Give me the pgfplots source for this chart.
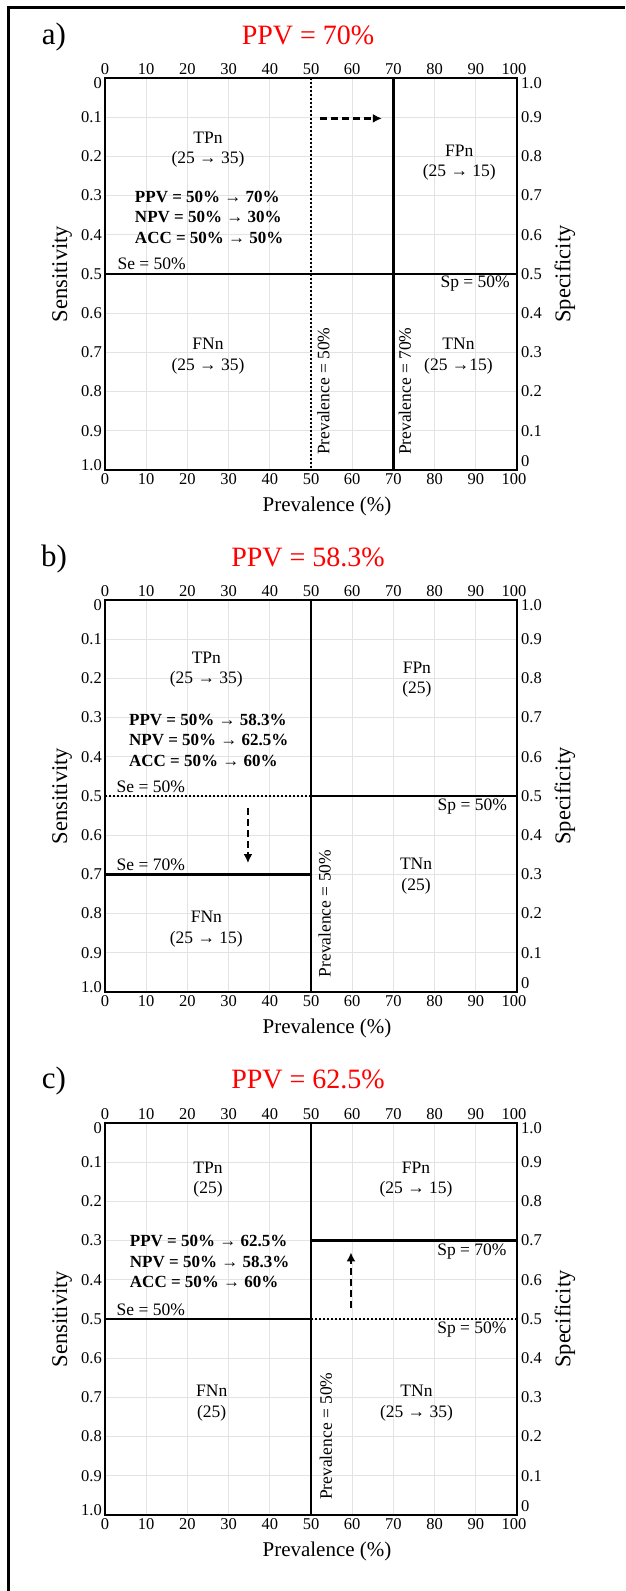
\documentclass[border=0pt]{standalone}
\usepackage{pgfplots}
\pgfplotsset{compat=1.18}
\usetikzlibrary{arrows.meta}
\usepackage{fontspec}
\setmainfont{Liberation Serif}
\newcommand{\txt}{\fontsize{17.5}{20.5}\selectfont}
\newcommand{\btxt}{\bfseries\fontsize{17}{20.5}\selectfont}
\newcommand{\ylab}{\fontsize{22.5}{25}\selectfont}
\pgfplotsset{
  panel/.style={
    scale only axis, width=412pt, height=392pt,
    xmin=0, xmax=100, ymin=0, ymax=1, y dir=reverse,
    xtick={0,10,20,30,40,50,60,70,80,90,100},
    xticklabels={0,10,20,30,40,50,60,70,80,90,\hspace*{-6pt}100},
    major tick length=0pt,
    axis line style={line width=2.8pt},
    tick label style={font=\fontsize{16.5}{18}\selectfont, inner sep=2pt},
    anchor=north west,
  },
  base/.style={panel,
    grid=major, grid style={line width=0.9pt, black!11},
    ytick={0,0.1,0.2,0.3,0.4,0.5,0.6,0.7,0.8,0.9,1},
    yticklabels={},
    extra y ticks={0.012,0.1,0.2,0.3,0.4,0.5,0.6,0.7,0.8,0.9,0.988},
    extra y tick labels={0,0.1,0.2,0.3,0.4,0.5,0.6,0.7,0.8,0.9,1.0},
    extra y tick style={grid=none},
    xticklabel style={yshift=-1pt},
    yticklabel style={xshift=-1pt},
  },
  over/.style={panel,
    xticklabel pos=right, yticklabel pos=right,
    ytick={0.012,0.1,0.2,0.3,0.4,0.5,0.6,0.7,0.8,0.9,0.978},
    yticklabels={1.0,0.9,0.8,0.7,0.6,0.5,0.4,0.3,0.2,0.1,0},
    yticklabel style={xshift=2pt},
    xticklabel style={yshift=1pt},
  },
  solidl/.style={black, line width=2.4pt},
  dotl/.style={black, line width=1.8pt, dash pattern=on 1.8pt off 2.2pt},
  arr/.style={black, line width=2.6pt, dash pattern=on 7pt off 4pt, -{Latex[length=9pt,width=9pt]}},
}
\begin{document}
\begin{tikzpicture}
\useasboundingbox (0pt,0pt) rectangle (625pt,-1591pt);
\draw[line width=3pt] (8pt,-1591pt) -- (8pt,-7pt) -- (625pt,-7pt);

% ---------------- panel a ----------------
\node[font=\fontsize{31}{34}\selectfont] at (54pt,-37pt) {a)};
\node[font=\fontsize{28}{32}\selectfont, text=red] at (308pt,-35pt) {PPV = 70\%};
\begin{axis}[base, at={(105pt,-78pt)}]
\addplot[solidl] coordinates {(0,0.5) (100,0.5)};
\addplot[dotl] coordinates {(50,0) (50,1)};
\addplot[solidl] coordinates {(70,0) (70,1)};
\addplot[arr] coordinates {(52.2,0.103) (67.2,0.103)};
\node[font=\txt, align=center] at (axis cs:25,0.183) {TPn\\(25 → 35)};
\node[font=\txt, align=center] at (axis cs:86,0.216) {FPn\\(25 → 15)};
\node[font=\btxt, align=left] at (axis cs:25.3,0.355) {PPV = 50\% → 70\%\\NPV = 50\% → 30\%\\ACC = 50\% → 50\%};
\node[font=\txt, anchor=west, inner sep=0pt] at (axis cs:3,0.475) {Se = 50\%};
\node[font=\txt, anchor=east, inner sep=0pt] at (axis cs:98.3,0.525) {Sp = 50\%};
\node[font=\txt, align=center] at (axis cs:25,0.71) {FNn\\(25 → 35)};
\node[font=\txt, align=center] at (axis cs:85.8,0.71) {TNn\\(25 →15)};
\node[font=\txt, rotate=90, anchor=west, inner sep=0pt] at (axis cs:53,0.962) {Prevalence = 50\%};
\node[font=\txt, rotate=90, anchor=west, inner sep=0pt] at (axis cs:72.8,0.962) {Prevalence = 70\%};
\end{axis}
\begin{axis}[over, at={(105pt,-78pt)}]
\end{axis}
\node[font=\ylab, rotate=90] at (62pt,-274pt) {Sensitivity};
\node[font=\ylab, rotate=90] at (565pt,-274pt) {Specificity};
\node[font=\fontsize{21}{24}\selectfont] at (327pt,-506pt) {Prevalence (\%)};

% ---------------- panel b ----------------
\node[font=\fontsize{31}{34}\selectfont] at (54pt,-559pt) {b)};
\node[font=\fontsize{28}{32}\selectfont, text=red] at (308pt,-557pt) {PPV = 58.3\%};
\begin{axis}[base, at={(105pt,-600pt)}]
\addplot[dotl] coordinates {(0,0.5) (50,0.5)};
\addplot[solidl] coordinates {(50,0.5) (100,0.5)};
\addplot[solidl] coordinates {(0,0.7) (50,0.7)};
\addplot[solidl] coordinates {(50,0) (50,1)};
\addplot[arr] coordinates {(34.7,0.531) (34.7,0.671)};
\node[font=\txt, align=center] at (axis cs:24.6,0.178) {TPn\\(25 → 35)};
\node[font=\txt, align=center] at (axis cs:75.7,0.203) {FPn\\(25)};
\node[font=\btxt, align=left] at (axis cs:25.2,0.357) {PPV = 50\% → 58.3\%\\NPV = 50\% → 62.5\%\\ACC = 50\% → 60\%};
\node[font=\txt, anchor=west, inner sep=0pt] at (axis cs:2.8,0.476) {Se = 50\%};
\node[font=\txt, anchor=east, inner sep=0pt] at (axis cs:97.6,0.527) {Sp = 50\%};
\node[font=\txt, anchor=west, inner sep=0pt] at (axis cs:2.8,0.676) {Se = 70\%};
\node[font=\txt, align=center] at (axis cs:75.5,0.705) {TNn\\(25)};
\node[font=\txt, align=center] at (axis cs:24.6,0.84) {FNn\\(25 → 15)};
\node[font=\txt, rotate=90, anchor=west, inner sep=0pt] at (axis cs:53.3,0.963) {Prevalence = 50\%};
\end{axis}
\begin{axis}[over, at={(105pt,-600pt)}]
\end{axis}
\node[font=\ylab, rotate=90] at (62pt,-796pt) {Sensitivity};
\node[font=\ylab, rotate=90] at (565pt,-796pt) {Specificity};
\node[font=\fontsize{21}{24}\selectfont] at (327pt,-1028pt) {Prevalence (\%)};

% ---------------- panel c ----------------
\node[font=\fontsize{31}{34}\selectfont] at (54pt,-1081pt) {c)};
\node[font=\fontsize{28}{32}\selectfont, text=red] at (308pt,-1079pt) {PPV = 62.5\%};
\begin{axis}[base, at={(105pt,-1123pt)}]
\addplot[solidl] coordinates {(0,0.5) (50,0.5)};
\addplot[dotl] coordinates {(50,0.5) (100,0.5)};
\addplot[solidl] coordinates {(50,0.3) (100,0.3)};
\addplot[solidl] coordinates {(50,0) (50,1)};
\addplot[arr] coordinates {(59.7,0.472) (59.7,0.33)};
\node[font=\txt, align=center] at (axis cs:25,0.145) {TPn\\(25)};
\node[font=\txt, align=center] at (axis cs:75.5,0.145) {FPn\\(25 → 15)};
\node[font=\btxt, align=left] at (axis cs:25.4,0.354) {PPV = 50\% → 62.5\%\\NPV = 50\% → 58.3\%\\ACC = 50\% → 60\%};
\node[font=\txt, anchor=east, inner sep=0pt] at (axis cs:97.5,0.329) {Sp = 70\%};
\node[font=\txt, anchor=west, inner sep=0pt] at (axis cs:2.8,0.477) {Se = 50\%};
\node[font=\txt, anchor=east, inner sep=0pt] at (axis cs:97.5,0.527) {Sp = 50\%};
\node[font=\txt, align=center] at (axis cs:25.9,0.715) {FNn\\(25)};
\node[font=\txt, align=center] at (axis cs:75.6,0.715) {TNn\\(25 → 35)};
\node[font=\txt, rotate=90, anchor=west, inner sep=0pt] at (axis cs:53.6,0.962) {Prevalence = 50\%};
\end{axis}
\begin{axis}[over, at={(105pt,-1123pt)}]
\end{axis}
\node[font=\ylab, rotate=90] at (62pt,-1319pt) {Sensitivity};
\node[font=\ylab, rotate=90] at (565pt,-1319pt) {Specificity};
\node[font=\fontsize{21}{24}\selectfont] at (327pt,-1551pt) {Prevalence (\%)};
\end{tikzpicture}
\end{document}
